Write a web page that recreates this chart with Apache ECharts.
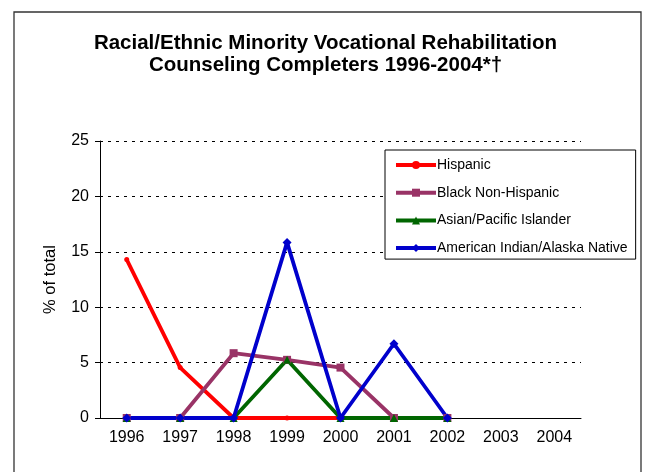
<!DOCTYPE html>
<html><head><meta charset="utf-8">
<script src="https://cdn.jsdelivr.net/npm/echarts@6/dist/echarts.min.js"></script>
<style>html,body{margin:0;padding:0;background:#fff}#c{width:651px;height:472px}</style>
</head><body><div id="c"></div>
<script>
const years = ['1996','1997','1998','1999','2000','2001','2002','2003','2004'];
const hispanic = [14.3, 4.55, 0, 0, 0, 0, 0, null, null];
const blackNonHispanic = [0, 0, 5.85, 5.25, 4.55, 0, 0, null, null];
const asianPacific = [0, 0, 0, 5.25, 0, 0, 0, null, null];
const americanIndian = [0, 0, 0, 15.85, 0, 6.7, 0, null, null];
const yTicks = [0, 5, 10, 15, 20, 25];
const seriesNames = ['Hispanic','Black Non-Hispanic','Asian/Pacific Islander','American Indian/Alaska Native'];

const chart = echarts.init(document.getElementById('c'), null, {renderer:'canvas'});
const font = 'Arial, "Liberation Sans", sans-serif';
function mk(name, data, color, symbol, size){
  return {name, type:'line', data, symbol, symbolSize:size, showSymbol:true,
    lineStyle:{color, width:3.8}, itemStyle:{color}, connectNulls:false, animation:false, z:2};
}
chart.setOption({
  animation:false,
  graphic:[{type:'rect', shape:{x:14, y:12, width:627, height:470}, style:{fill:'none', stroke:'#333', lineWidth:1.3}, z:-1}],
  title:{text:'Racial/Ethnic Minority Vocational Rehabilitation\nCounseling Completers 1996-2004*†', left:'center', top:27,
    textStyle:{fontFamily:font, fontSize:20.5, fontWeight:'bold', color:'#000', lineHeight:22}},
  legend:{orient:'vertical', left:385, top:150, width:251, itemWidth:40, itemHeight:10, itemGap:13.7,
    padding:[8,8,4,9], borderColor:'#000', borderWidth:1, backgroundColor:'#fff',
    lineStyle:{width:4},
    textStyle:{fontFamily:font, fontSize:14, color:'#000', padding:[0,0,0,-4]},
    data:seriesNames, z:10},
  grid:{left:100, right:70, top:141, bottom:54, containLabel:false},
  xAxis:{type:'category', data:years, boundaryGap:true,
    axisLine:{lineStyle:{color:'#000', width:1}}, axisTick:{show:false},
    axisLabel:{fontFamily:font, fontSize:16, color:'#000', margin:12, interval:0}},
  yAxis:{type:'value', min:0, max:25, interval:5, name:'% of total', nameLocation:'middle', nameGap:41,
    nameTextStyle:{fontFamily:font, fontSize:16.5, color:'#000'},
    axisLine:{show:true, lineStyle:{color:'#000', width:1}}, axisTick:{show:true, length:5, lineStyle:{color:'#000'}},
    axisLabel:{fontFamily:font, fontSize:16, color:'#000', margin:11, formatter:v=>yTicks.includes(v)?String(v):''},
    splitLine:{show:true, lineStyle:{color:'#000', type:[3,5], width:1}}},
  series:[
    mk(seriesNames[0], hispanic, '#FF0000', 'circle', 5),
    mk(seriesNames[1], blackNonHispanic, '#993366', 'rect', 8),
    mk(seriesNames[2], asianPacific, '#006600', 'triangle', 8),
    mk(seriesNames[3], americanIndian, '#0000CC', 'diamond', 9)
  ]
});
</script></body></html>
